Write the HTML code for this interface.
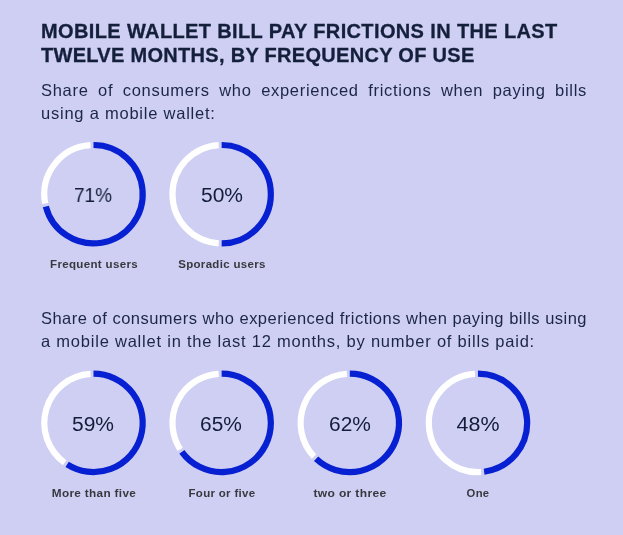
<!DOCTYPE html>
<html><head><meta charset="utf-8">
<style>
html,body{margin:0;padding:0;}
body{width:623px;height:535px;background:#cfcff3;position:relative;overflow:hidden;font-family:"Liberation Sans",sans-serif;}
.t{position:absolute;left:41px;font-weight:bold;font-size:20px;line-height:24px;color:#14203b;-webkit-text-stroke:0.3px #14203b;white-space:nowrap;}
.s{position:absolute;left:41px;font-size:16.5px;line-height:23px;color:#1b2648;white-space:nowrap;}
.j{width:546px;text-align:justify;text-align-last:justify;}
.pct{position:absolute;width:100px;text-align:center;font-size:20px;line-height:24px;color:#131d38;}
.lab{position:absolute;width:120px;text-align:center;font-size:10.5px;font-weight:bold;line-height:14px;color:#38383f;letter-spacing:0.3px;}
svg{position:absolute;left:0;top:0;}
.t,.s,.pct,.lab{will-change:transform;}
</style></head><body>
<div class="t" style="top:19px;letter-spacing:0.37px">MOBILE WALLET BILL PAY FRICTIONS IN THE LAST</div>
<div class="t" style="top:43px;letter-spacing:0.3px">TWELVE MONTHS, BY FREQUENCY OF USE</div>
<div class="s j" style="top:78.5px;letter-spacing:0.7px">Share of consumers who experienced frictions when paying bills</div>
<div class="s" style="top:101.5px;letter-spacing:0.77px">using a mobile wallet:</div>
<div class="s j" style="top:306.5px;letter-spacing:0.47px">Share of consumers who experienced frictions when paying bills using</div>
<div class="s" style="top:329.5px;letter-spacing:0.78px">a mobile wallet in the last 12 months, by number of bills paid:</div>
<svg width="623" height="535" viewBox="0 0 623 535">
<path d="M45.189 203.509A49.2 49.2 0 0 1 90.502 145.091" stroke="#fff" stroke-width="6.2" fill="none"/>
<path d="M93.500 145.000A49.2 49.2 0 1 1 45.846 206.436" stroke="#0620d2" stroke-width="6.2" fill="none"/>
<path d="M218.652 243.309A49.2 49.2 0 0 1 218.652 145.091" stroke="#fff" stroke-width="6.2" fill="none"/>
<path d="M221.650 145.000A49.2 49.2 0 0 1 221.650 243.400" stroke="#0620d2" stroke-width="6.2" fill="none"/>
<path d="M64.655 462.757A49.2 49.2 0 0 1 90.502 373.791" stroke="#fff" stroke-width="6.2" fill="none"/>
<path d="M93.500 373.700A49.2 49.2 0 1 1 67.137 464.441" stroke="#0620d2" stroke-width="6.2" fill="none"/>
<path d="M180.158 449.340A49.2 49.2 0 0 1 218.652 373.791" stroke="#fff" stroke-width="6.2" fill="none"/>
<path d="M221.650 373.700A49.2 49.2 0 1 1 181.846 451.819" stroke="#0620d2" stroke-width="6.2" fill="none"/>
<path d="M313.997 456.646A49.2 49.2 0 0 1 346.802 373.791" stroke="#fff" stroke-width="6.2" fill="none"/>
<path d="M349.800 373.700A49.2 49.2 0 1 1 316.120 458.765" stroke="#0620d2" stroke-width="6.2" fill="none"/>
<path d="M481.130 471.997A49.2 49.2 0 1 1 474.952 373.791" stroke="#fff" stroke-width="6.2" fill="none"/>
<path d="M477.950 373.700A49.2 49.2 0 0 1 484.116 471.712" stroke="#0620d2" stroke-width="6.2" fill="none"/>
</svg>
<div class="pct" style="left:42.90px;top:183.00px;transform:scaleX(0.95);">71%</div>
<div class="pct" style="left:172.05px;top:183.00px;transform:scaleX(1.05);">50%</div>
<div class="pct" style="left:43.20px;top:412.40px;transform:scaleX(1.05);">59%</div>
<div class="pct" style="left:171.35px;top:412.40px;transform:scaleX(1.045);">65%</div>
<div class="pct" style="left:299.50px;top:412.40px;transform:scaleX(1.045);">62%</div>
<div class="pct" style="left:427.65px;top:412.40px;transform:scaleX(1.07);">48%</div>
<div class="lab" style="left:33.65px;top:257.00px;transform:scaleX(1.098)">Frequent users</div>
<div class="lab" style="left:161.80px;top:257.00px;transform:scaleX(1.095)">Sporadic users</div>
<div class="lab" style="left:33.65px;top:485.70px;transform:scaleX(1.12)">More than five</div>
<div class="lab" style="left:161.80px;top:485.70px;transform:scaleX(1.093)">Four or five</div>
<div class="lab" style="left:289.95px;top:485.70px;transform:scaleX(1.149)">two or three</div>
<div class="lab" style="left:418.10px;top:485.70px;transform:scaleX(1.074)">One</div>

</body></html>
